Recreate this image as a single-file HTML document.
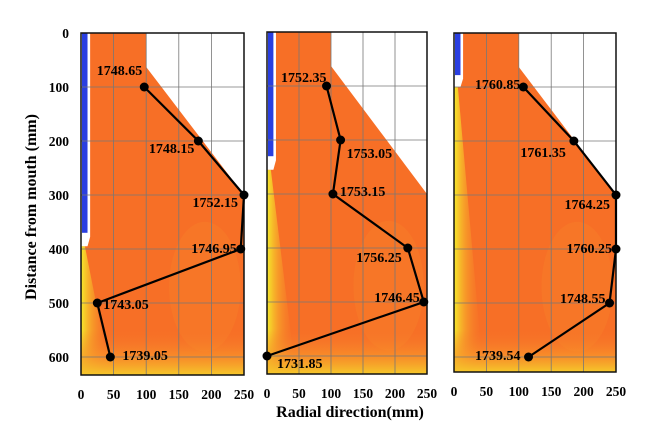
<!DOCTYPE html>
<html><head><meta charset="utf-8"><style>
html,body{margin:0;padding:0;background:#fff;}
svg{display:block;font-family:"Liberation Serif",serif;font-weight:bold;}
</style></head><body>
<svg id="chart" width="654" height="443" viewBox="0 0 654 443">
<defs>
<linearGradient id="leftGlow" x1="0" y1="0" x2="1" y2="0">
<stop offset="0" stop-color="#f4ea2a"/><stop offset="0.35" stop-color="#f7b42a" stop-opacity="0.7"/><stop offset="1" stop-color="#f7742a" stop-opacity="0"/></linearGradient>
<linearGradient id="bottomGlow" x1="0" y1="0" x2="0" y2="1">
<stop offset="0" stop-color="#f7742a" stop-opacity="0"/><stop offset="0.6" stop-color="#f8982a" stop-opacity="0.7"/><stop offset="1" stop-color="#f5c82a"/></linearGradient>
</defs>
<text x="0" y="0" transform="translate(36,207) rotate(-90)" text-anchor="middle" font-size="16">Distance from mouth (mm)</text>
<text x="350" y="417" text-anchor="middle" font-size="16">Radial direction(mm)</text>
</svg>
<script>
// data
const yTicks = [0, 100, 200, 300, 400, 500, 600];
const xTicks = [0, 50, 100, 150, 200, 250];
const p1Radial = [97, 180, 250, 245, 25, 45];
const p1Depth = [100, 200, 300, 400, 500, 600];
const p1Temps = ["1748.65", "1748.15", "1752.15", "1746.95", "1743.05", "1739.05"];
const p2Radial = [93, 115, 103, 220, 245, 0];
const p2Depth = [100, 200, 300, 400, 500, 600];
const p2Temps = ["1752.35", "1753.05", "1753.15", "1756.25", "1746.45", "1731.85"];
const p3Radial = [107, 185, 250, 250, 240, 115];
const p3Depth = [100, 200, 300, 400, 500, 600];
const p3Temps = ["1760.85", "1761.35", "1764.25", "1760.25", "1748.55", "1739.54"];

const NS = "http://www.w3.org/2000/svg";
const svg = document.getElementById('chart');
function mk(tag, attrs, parent){ const e=document.createElementNS(NS,tag); for(const k in attrs) e.setAttribute(k,attrs[k]); (parent||svg).appendChild(e); return e; }

const panels = [
 {x0:81, x1:244, top:33, bottom:375, radial:p1Radial, depth:p1Depth, temps:p1Temps, blueEnd:370, notch:25,
  lab:[[-2,-16,'end'],[-4,8,'end'],[-6,8,'end'],[-4,0,'end'],[6,2,'start'],[12,-1,'start']]},
 {x0:267, x1:427, top:32, bottom:374, radial:p2Radial, depth:p2Depth, temps:p2Temps, blueEnd:230, notch:25,
  lab:[[0,-8,'end'],[6,14,'start'],[7,-2,'start'],[-6,10,'end'],[-4,-4,'end'],[10,8,'start']]},
 {x0:454, x1:616, top:33, bottom:372, radial:p3Radial, depth:p3Depth, temps:p3Temps, blueEnd:78, notch:22,
  lab:[[-3,-2,'end'],[-8,12,'end'],[-6,10,'end'],[-4,0,'end'],[-4,-4,'end'],[-8,-1,'end']]}
];

panels.forEach((p, pi) => {
  const sx = v => p.x0 + (v/250)*(p.x1-p.x0);
  const sy = v => p.top + v*0.54;
  const g = mk('g', {});
  
  
  mk('rect',{x:p.x0,y:p.top,width:p.x1-p.x0,height:p.bottom-p.top,fill:'#f76f26'},g);
  mk('ellipse',{cx:sx(190),cy:sy(470),rx:(p.x1-p.x0)*0.22,ry:65,fill:'#f7832c',opacity:0.35},g);
  const ys = sy(p.blueEnd+p.notch);
  mk('polygon',{points:`${p.x0},${ys} ${sx(6)},${ys} ${sx(45)},${p.bottom} ${p.x0},${p.bottom}`,fill:'url(#leftGlow)'},g);
  mk('rect',{x:p.x0,y:sy(550),width:p.x1-p.x0,height:p.bottom-sy(550),fill:'url(#bottomGlow)'},g);
  mk('polygon',{points:`${sx(100)},${p.top} ${p.x1},${p.top} ${p.x1},${sy(300)} ${sx(100)},${sy(63)}`,fill:'#fff'},g);
  mk('path',{d:`M${p.x0},${p.top} H${sx(14)} V${sy(p.blueEnd+p.notch*0.3)} L${sx(10)},${sy(p.blueEnd+p.notch)} H${p.x0} Z`,fill:'#fff'},g);
  mk('rect',{x:p.x0+1,y:p.top,width:sx(10)-p.x0-1,height:sy(p.blueEnd)-p.top,fill:'#2a3fe0'},g);
  xTicks.forEach(t => { mk('line',{x1:sx(t),x2:sx(t),y1:p.top,y2:p.bottom,stroke:'#777','stroke-width':0.8},g); });
  yTicks.forEach(t => { mk('line',{x1:p.x0,x2:p.x1,y1:sy(t),y2:sy(t),stroke:'#777','stroke-width':0.8},g); });
  mk('rect',{x:p.x0,y:p.top,width:p.x1-p.x0,height:p.bottom-p.top,fill:'none',stroke:'#111','stroke-width':1.5},g);
  xTicks.forEach(t => {
    const tl = mk('text',{x:sx(t),y:p.bottom+24,'text-anchor':'middle','font-size':13.5},g);
    
    
    tl.textContent = t;
  });
  if (pi === 0) {
    yTicks.forEach(t => {
      const tl = mk('text',{x:69,y:sy(t)+5,'text-anchor':'end','font-size':13.5},g);
      
      
      tl.textContent = t;
    });
  }
  const pts = p.radial.map((r,i)=>`${sx(r)},${sy(p.depth[i])}`).join(' ');
  const ln = mk('polyline',{points:pts,fill:'none',stroke:'#000','stroke-width':2.2},g);
  
  
  p.radial.forEach((r,i) => {
    const c = mk('circle',{cx:sx(r),cy:sy(p.depth[i]),r:4.5,fill:'#000'},g);
    
    
    const L = p.lab[i];
    const t = mk('text',{x:sx(r)+L[0],y:sy(p.depth[i])+L[1]+4,'text-anchor':L[2],'font-size':14},g);
    
    
    t.textContent = p.temps[i];
  });
});
</script>
</body></html>
